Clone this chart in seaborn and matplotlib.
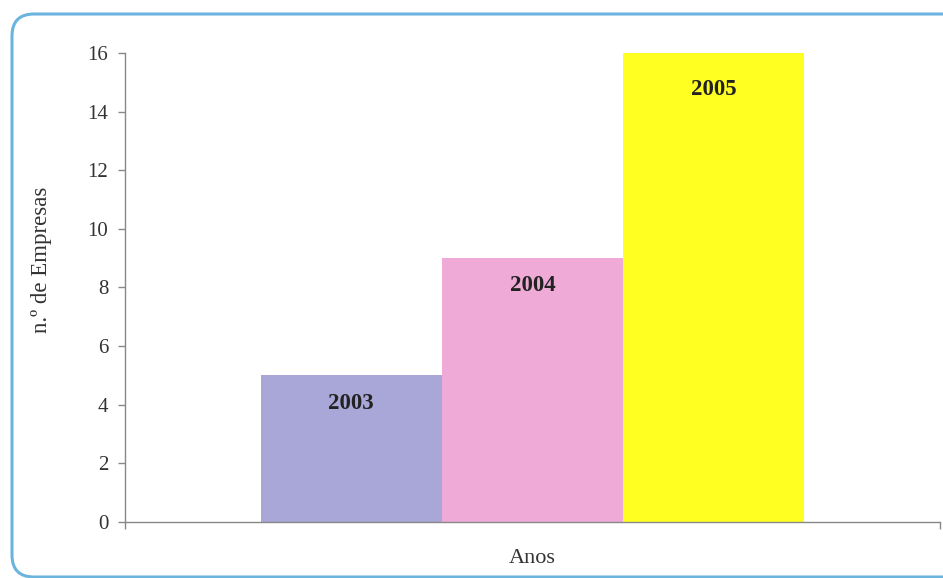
import pandas as pd
import matplotlib.pyplot as plt
import seaborn as sns
from matplotlib.patches import FancyBboxPatch

# values
anos = ["2003", "2004", "2005"]
empresas = [5, 9, 16]
cores = ["#A9A6D8", "#EFAAD8", "#FFFF22"]
y_ticks = [0, 2, 4, 6, 8, 10, 12, 14, 16]

data = pd.DataFrame({"grupo": [""] * 3, "ano": anos, "empresas": empresas})

sns.set_style("white")
plt.rcParams['font.family'] = ['Liberation Serif', 'DejaVu Serif']

fig = plt.figure(figsize=(9.43, 5.78), dpi=100)
ax = fig.add_axes([0.1326, 0.0969, 0.864, 0.8114])

sns.barplot(data=data, x="grupo", y="empresas", hue="ano",
            palette=cores, width=0.667, gap=0, dodge=True,
            saturation=1, legend=False, ax=ax)

# year labels just under the top of each bar
offsets = [-20, -20, -26]
for patch, ano, off in zip(ax.patches, anos, offsets):
    patch.set_linewidth(0)
    ax.annotate(ano, (patch.get_x() + patch.get_width() / 2, patch.get_height()),
                xytext=(0, off), textcoords="offset points",
                ha="center", va="center", fontsize=16.5, fontweight="bold",
                color="#222222")

ax.set_xlim(-0.5, 0.5)
ax.set_ylim(0, 16)
ax.set_yticks(y_ticks)
ax.set_xticks([-0.5, 0.5])
ax.set_xticklabels(["", ""])
ax.tick_params(axis="both", direction="out", length=5, width=1, color="#888888",
               labelsize=15, labelcolor="#333333", left=True, bottom=True)
ax.tick_params(axis="y", pad=7)

for side in ["top", "right"]:
    ax.spines[side].set_visible(False)
for side in ["left", "bottom"]:
    ax.spines[side].set_color("#888888")
    ax.spines[side].set_linewidth(1)

ax.set_xlabel("Anos", fontsize=16, color="#333333")
ax.xaxis.set_label_coords(0.5, -0.058)
ax.set_ylabel("n.º de Empresas", fontsize=16.5, color="#333333", va="center")
ax.yaxis.set_label_coords(-0.102, 0.559)

# rounded frame round the chart
W, H = 943, 578
frame = FancyBboxPatch((22 / W, (H - 567) / H), (960 - 22) / W, (567 - 24) / H,
                       boxstyle="round,pad=0.0,rounding_size=0.02",
                       transform=fig.transFigure, fill=False,
                       edgecolor="#6BB4DE", linewidth=2.2, mutation_aspect=W / H)
frame.set_boxstyle("round", pad=10 / W, rounding_size=22 / W)
fig.patches.append(frame)

fig.savefig("out.png", dpi=100)
